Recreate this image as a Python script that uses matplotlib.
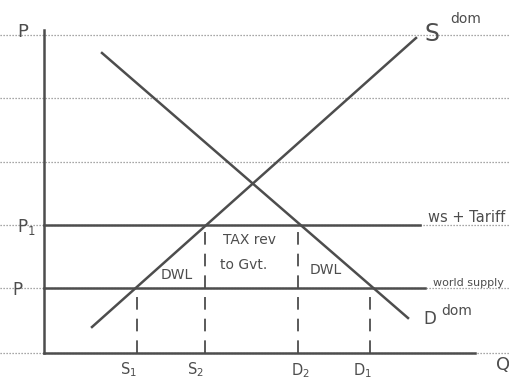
import matplotlib.pyplot as plt

# notebook ruling (price levels of the printed lines)
ruled_levels = [31.8, 25.5, 19.1, 12.8, 6.5, 0.0]

# domestic demand and supply (end points of the sketched lines)
demand_q = [5.8, 36.4]
demand_p = [30.0, 3.5]
supply_q = [4.8, 37.2]
supply_p = [2.6, 31.5]

# prices
p_world = 6.5
p_tariff = 12.8

# quantities
s1, s2, d2, d1 = 9.3, 16.1, 25.4, 32.6

ink = '#4d4d4d'

fig = plt.figure(figsize=(5.10, 3.81), dpi=100)
ax = fig.add_axes([0, 0, 1, 1])
ax.set_xlim(-4.4, 46.6)
ax.set_ylim(-2.8, 35.3)
ax.axis('off')

# ruled paper lines
for lvl in ruled_levels:
    ax.plot([-4.4, 46.6], [lvl, lvl], color='#8a8a8a', lw=0.9,
            linestyle=(0, (1, 1.4)), zorder=1)

# axes
ax.plot([0, 0], [0, 32.3], color=ink, lw=1.8, zorder=3)
ax.plot([0, 43.1], [0, 0], color=ink, lw=1.8, zorder=3)

# world price and world price + tariff
ax.plot([0, 38.1], [p_world, p_world], color=ink, lw=1.8, zorder=3)
ax.plot([0, 37.6], [p_tariff, p_tariff], color=ink, lw=1.8, zorder=3)

# demand and supply
ax.plot(demand_q, demand_p, color=ink, lw=1.8, zorder=3)
ax.plot(supply_q, supply_p, color=ink, lw=1.8, zorder=3)

# quantity drop lines
dash = (0, (7, 5))
ax.plot([s1, s1], [0, p_world], color=ink, lw=1.3, linestyle=dash, zorder=2)
ax.plot([d1, d1], [0, p_world], color=ink, lw=1.3, linestyle=dash, zorder=2)
ax.plot([s2, s2], [0, p_tariff], color=ink, lw=1.3, linestyle=dash, zorder=2)
ax.plot([d2, d2], [0, p_tariff], color=ink, lw=1.3, linestyle=dash, zorder=2)

txt = dict(color=ink, ha='center', va='center')
ax.text(-2.1, 32.1, 'P', fontsize=13, **txt)
ax.text(-1.8, 12.6, 'P$_1$', fontsize=12, **txt)
ax.text(-2.7, 6.3, 'P', fontsize=12, **txt)
ax.text(s1 - 0.9, -1.7, 'S$_1$', fontsize=10.5, **txt)
ax.text(s2 - 1.0, -1.7, 'S$_2$', fontsize=10.5, **txt)
ax.text(d2 + 0.2, -1.8, 'D$_2$', fontsize=10.5, **txt)
ax.text(d1 - 0.8, -1.8, 'D$_1$', fontsize=10.5, **txt)
ax.text(45.9, -1.2, 'Q', fontsize=13, **txt)

ax.text(38.8, 31.9, 'S', fontsize=17, **txt)
ax.text(42.2, 33.4, 'dom', fontsize=10, **txt)
ax.text(38.6, 3.4, 'D', fontsize=12, **txt)
ax.text(41.3, 4.2, 'dom', fontsize=10, **txt)

ax.text(38.4, 13.5, 'ws + Tariff', fontsize=10.5, color=ink, ha='left', va='center')
ax.text(38.9, 7.0, 'world supply', fontsize=8, color=ink, ha='left', va='center')

ax.text(13.3, 7.8, 'DWL', fontsize=10, **txt)
ax.text(28.2, 8.3, 'DWL', fontsize=10, **txt)
ax.text(20.6, 11.3, 'TAX rev', fontsize=10, **txt)
ax.text(20.0, 8.8, 'to Gvt.', fontsize=10, **txt)

fig.savefig('out.png', dpi=100)
